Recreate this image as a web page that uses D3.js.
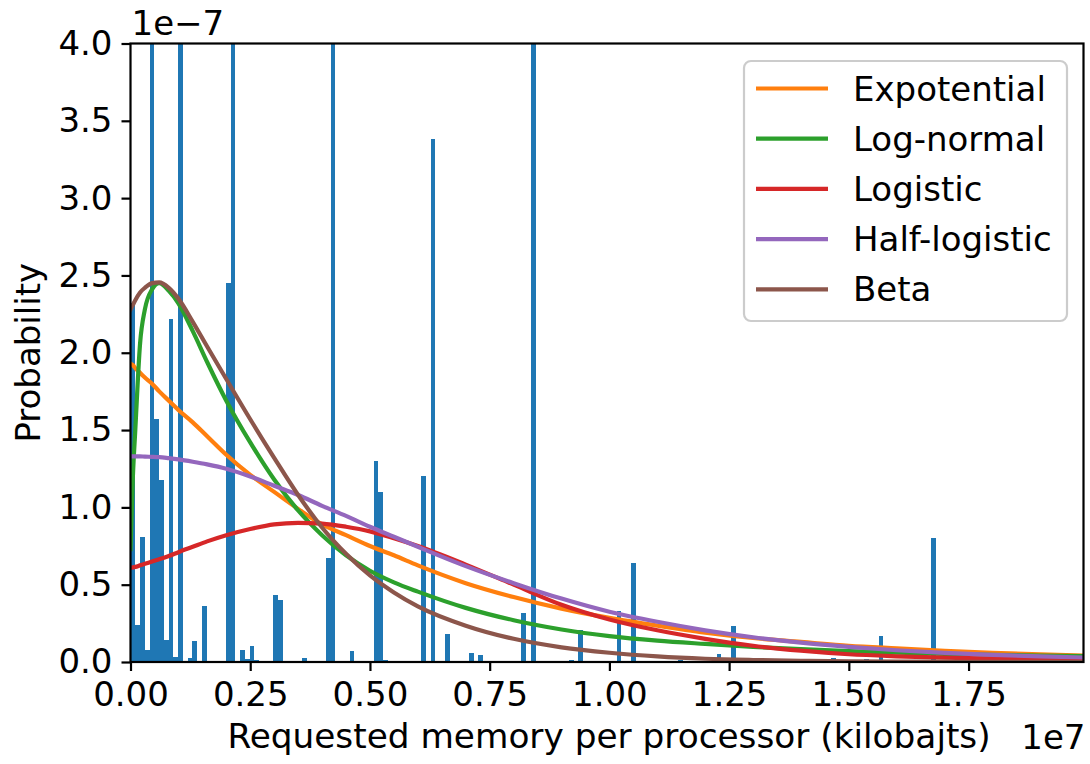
<!DOCTYPE html>
<html>
<head>
<meta charset="utf-8">
<script src="https://cdn.jsdelivr.net/npm/d3@7.9.0/dist/d3.min.js"></script>
<style>
  html, body { margin: 0; padding: 0; background: #fff; }
  svg { display: block; font-family: 'DejaVu Sans', sans-serif; }
</style>
</head>
<body>
<svg id="chart" width="1090" height="764"></svg>
<script>
// x in units of 1e7 kB, y in units of 1e-7
const X_MAX = 1.99;
const BIN_COUNT = 200;

// histogram bins (index into 200 equal bins) and their heights
const barBins = [0, 1, 2, 3, 4, 5, 6, 7, 8, 9, 10, 12, 13, 15, 20, 21, 23, 24, 25, 26,
  30, 31, 35, 36, 41, 42, 46, 51, 52, 53, 61, 63, 66, 71, 73, 82, 84, 92, 94,
  102, 105, 115, 123, 126, 147, 154, 157, 164, 168];
const barValues = [2.32, 0.24, 0.81, 0.08, 5.0, 1.57, 1.18, 0.145, 2.22, 0.035, 5.0, 0.028, 0.138, 0.365, 2.45, 6.0, 0.08, 0.022, 0.106, 0.015,
  0.436, 0.403, 0.009, 0.028, 0.67, 5.0, 0.07, 1.30, 1.10, 0.01, 1.20, 3.38, 0.18, 0.06, 0.048, 0.315, 5.0, 0.011, 0.21,
  0.328, 0.639, 0.013, 0.053, 0.234, 0.028, 0.02, 0.168, 0.013, 0.80];

// fitted curves
const curveX = [0, 0.005, 0.01, 0.02, 0.03, 0.045, 0.06, 0.08, 0.1, 0.13, 0.16, 0.2, 0.25, 0.3, 0.35, 0.4, 0.45, 0.5, 0.55, 0.6,
  0.7, 0.8, 0.9, 1.0, 1.1, 1.2, 1.3, 1.4, 1.5, 1.6, 1.7, 1.8, 1.9, 1.99];
const expotential = [1.93, 1.92, 1.90, 1.87, 1.84, 1.80, 1.75, 1.69, 1.63, 1.55, 1.46, 1.34, 1.21, 1.10, 0.99, 0.89, 0.82, 0.75, 0.69, 0.625,
  0.51, 0.42, 0.345, 0.285, 0.235, 0.19, 0.155, 0.13, 0.105, 0.088, 0.072, 0.059, 0.049, 0.042];
const logNormal = [0.73, 1.2, 1.5, 2.06, 2.28, 2.41, 2.45, 2.40, 2.32, 2.14, 1.94, 1.69, 1.42, 1.18, 0.98, 0.82, 0.69, 0.59, 0.515, 0.455,
  0.35, 0.27, 0.21, 0.167, 0.138, 0.117, 0.098, 0.083, 0.07, 0.06, 0.053, 0.047, 0.042, 0.038];
const logistic = [0.61, 0.612, 0.615, 0.625, 0.635, 0.65, 0.665, 0.685, 0.71, 0.745, 0.78, 0.82, 0.86, 0.89, 0.90, 0.895, 0.875, 0.845, 0.80, 0.75,
  0.63, 0.50, 0.37, 0.275, 0.205, 0.15, 0.105, 0.073, 0.05, 0.037, 0.028, 0.022, 0.018, 0.015];
const halfLogistic = [1.33, 1.33, 1.33, 1.33, 1.328, 1.327, 1.325, 1.318, 1.31, 1.295, 1.278, 1.25, 1.20, 1.14, 1.08, 1.01, 0.945, 0.875, 0.81, 0.745,
  0.62, 0.51, 0.41, 0.325, 0.26, 0.205, 0.16, 0.125, 0.098, 0.076, 0.059, 0.046, 0.036, 0.029];
const beta = [2.28, 2.31, 2.34, 2.39, 2.42, 2.45, 2.455, 2.42, 2.35, 2.20, 2.04, 1.83, 1.57, 1.32, 1.08, 0.87, 0.70, 0.56, 0.45, 0.36,
  0.235, 0.15, 0.095, 0.06, 0.036, 0.021, 0.013, 0.008, 0.005, 0.003, 0.002, 0.001, 0.0005, 0.0];

const seriesNames = ['Expotential', 'Log-normal', 'Logistic', 'Half-logistic', 'Beta'];
const seriesValues = [expotential, logNormal, logistic, halfLogistic, beta];
const seriesColors = ['#ff7f0e', '#2ca02c', '#d62728', '#9467bd', '#8c564b'];

const xTicks = [0, 0.25, 0.5, 0.75, 1.0, 1.25, 1.5, 1.75];
const yTicks = [0, 0.5, 1.0, 1.5, 2.0, 2.5, 3.0, 3.5, 4.0];

const margin = { left: 130.5, right: 1083.5, top: 43.5, bottom: 662 };
const FONT = 34;

const svg = d3.select('#chart');
const x = d3.scaleLinear().domain([0, X_MAX]).range([margin.left, margin.right]);
const y = d3.scaleLinear().domain([0, 4.0]).range([margin.bottom, margin.top]);

svg.append('defs').append('clipPath').attr('id', 'plot-clip')
  .append('rect')
  .attr('x', margin.left).attr('y', margin.top)
  .attr('width', margin.right - margin.left)
  .attr('height', margin.bottom - margin.top);

const plot = svg.append('g').attr('clip-path', 'url(#plot-clip)');

// histogram
const binWidth = X_MAX / BIN_COUNT;
plot.append('g')
  .selectAll('rect')
  .data(barBins.map((b, i) => ({ bin: b, value: barValues[i] })))
  .join('rect')
  .attr('x', (d) => x(d.bin * binWidth))
  .attr('width', (d) => x((d.bin + 1) * binWidth) - x(d.bin * binWidth))
  .attr('y', (d) => y(d.value))
  .attr('height', (d) => y(0) - y(d.value))
  .attr('fill', '#1f77b4')
  .attr('shape-rendering', 'crispEdges');

// fitted curves
const line = d3.line()
  .x((d) => x(d[0]))
  .y((d) => y(d[1]))
  .curve(d3.curveMonotoneX);

seriesValues.forEach((vals, i) => {
  plot.append('path')
    .datum(curveX.map((cx, j) => [cx, vals[j]]))
    .attr('d', line)
    .attr('fill', 'none')
    .attr('stroke', seriesColors[i])
    .attr('stroke-width', 4.2)
    .attr('stroke-linejoin', 'round')
    .attr('stroke-linecap', 'square');
});

// axes
const xAxis = d3.axisBottom(x).tickValues(xTicks).tickFormat(d3.format('.2f')).tickSize(9).tickPadding(9);
const yAxis = d3.axisLeft(y).tickValues(yTicks).tickFormat(d3.format('.1f')).tickSize(9).tickPadding(9);

const gx = svg.append('g').attr('transform', `translate(0,${margin.bottom})`).call(xAxis);
const gy = svg.append('g').attr('transform', `translate(${margin.left},0)`).call(yAxis);

[gx, gy].forEach((g) => {
  g.select('.domain').remove();
  g.selectAll('.tick line').attr('stroke', '#000').attr('stroke-width', 2.2);
  g.selectAll('.tick text')
    .attr('fill', '#000')
    .style('font-size', FONT + 'px')
    .style('font-family', "'DejaVu Sans', sans-serif");
});
gx.selectAll('.tick text').attr('dy', '0.76em');

// spines
svg.append('rect')
  .attr('x', margin.left).attr('y', margin.top)
  .attr('width', margin.right - margin.left)
  .attr('height', margin.bottom - margin.top)
  .attr('fill', 'none')
  .attr('stroke', '#000')
  .attr('stroke-width', 2.2);

// labels and offsets
svg.append('text')
  .attr('x', 609)
  .attr('y', 748)
  .attr('text-anchor', 'middle')
  .style('font-size', '34.3px')
  .text('Requested memory per processor (kilobajts)');

svg.append('text')
  .attr('transform', `translate(40,${(margin.top + margin.bottom) / 2}) rotate(-90)`)
  .attr('text-anchor', 'middle')
  .style('font-size', FONT + 'px')
  .text('Probability');

svg.append('text')
  .attr('x', margin.left + 1)
  .attr('y', 35)
  .style('font-size', FONT + 'px')
  .text('1e\u22127');

svg.append('text')
  .attr('x', margin.right + 2)
  .attr('y', 749)
  .attr('text-anchor', 'end')
  .style('font-size', FONT + 'px')
  .text('1e7');

// legend
const legend = svg.append('g');
legend.append('rect')
  .attr('x', 744).attr('y', 61)
  .attr('width', 323).attr('height', 260)
  .attr('rx', 7).attr('ry', 7)
  .attr('fill', 'rgba(255,255,255,0.8)')
  .attr('stroke', '#cccccc')
  .attr('stroke-width', 2.2);

seriesNames.forEach((name, i) => {
  const ly = 88.5 + i * 50.2;
  legend.append('line')
    .attr('x1', 756).attr('x2', 828)
    .attr('y1', ly).attr('y2', ly)
    .attr('stroke', seriesColors[i])
    .attr('stroke-width', 4.2);
  legend.append('text')
    .attr('x', 853)
    .attr('y', ly + 12)
    .style('font-size', FONT + 'px')
    .text(name);
});
</script>
</body>
</html>
